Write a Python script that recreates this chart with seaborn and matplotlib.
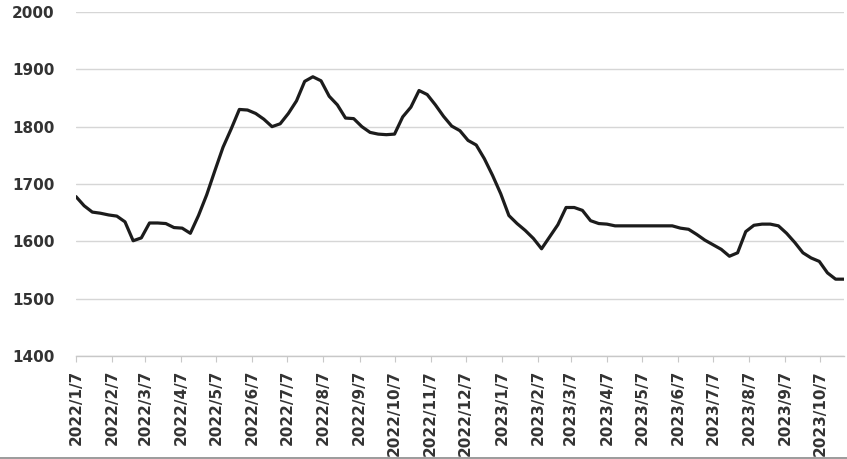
import pandas as pd
import matplotlib
matplotlib.use("Agg")
import matplotlib.pyplot as plt
import matplotlib.lines as mlines
import seaborn as sns

# weekly series
start_date = "2022-01-07"
values = [
    1678, 1662, 1651, 1649, 1646, 1644, 1634, 1601, 1606, 1632,
    1632, 1631, 1624, 1623, 1614, 1645, 1681, 1723, 1764, 1796,
    1830, 1829, 1823, 1813, 1800, 1805, 1823, 1845, 1879, 1887,
    1880, 1853, 1838, 1815, 1814, 1800, 1790, 1787, 1786, 1787,
    1817, 1834, 1863, 1856, 1838, 1818, 1801, 1793, 1776, 1768,
    1744, 1715, 1683, 1645, 1631, 1619, 1605, 1587, 1608, 1629,
    1659, 1659, 1654, 1636, 1631, 1630, 1627, 1627, 1627, 1627,
    1627, 1627, 1627, 1627, 1623, 1621, 1612, 1602, 1594, 1586,
    1574, 1580, 1617, 1628, 1630, 1630, 1627, 1614, 1598, 1580,
    1571, 1565, 1545, 1534, 1534,
]
y_ticks = [1400, 1500, 1600, 1700, 1800, 1900, 2000]
tick_labels = [
    "2022/1/7", "2022/2/7", "2022/3/7", "2022/4/7", "2022/5/7", "2022/6/7",
    "2022/7/7", "2022/8/7", "2022/9/7", "2022/10/7", "2022/11/7", "2022/12/7",
    "2023/1/7", "2023/2/7", "2023/3/7", "2023/4/7", "2023/5/7", "2023/6/7",
    "2023/7/7", "2023/8/7", "2023/9/7", "2023/10/7",
]

df = pd.DataFrame({
    "date": pd.date_range(start_date, periods=len(values), freq="7D"),
    "price": values,
})
tick_dates = pd.to_datetime(tick_labels, format="%Y/%m/%d")

sns.set_style("white")
plt.rcParams["font.family"] = ["DejaVu Sans"]

fig = plt.figure(figsize=(8.47, 4.59), dpi=100)
ax = fig.add_axes([0.0897, 0.2244, 0.9065, 0.7495])

sns.lineplot(data=df, x="date", y="price", ax=ax, color="#1c1c1c", linewidth=2.3)

ax.set_xlim(df["date"].iloc[0], df["date"].iloc[-1])
ax.set_ylim(1400, 2000)
ax.set_yticks(y_ticks)
ax.set_yticklabels([str(v) for v in y_ticks], fontsize=11, fontweight="bold", color="#333333")
ax.set_xticks(tick_dates)
ax.set_xticklabels(tick_labels, rotation=90, fontsize=11, fontweight="bold", color="#333333")

ax.grid(axis="y", color="#d6d6d6", linewidth=1.0)
ax.grid(axis="x", visible=False)
for side in ["left", "right", "top"]:
    ax.spines[side].set_visible(False)
ax.spines["bottom"].set_color("#c8c8c8")
ax.spines["bottom"].set_linewidth(1.0)
ax.tick_params(axis="x", bottom=True, length=4, width=0.8, color="#c8c8c8", pad=6)
ax.tick_params(axis="y", left=False, pad=12)
ax.set_xlabel("")
ax.set_ylabel("")

# grey border line at the bottom of the picture
fig.add_artist(mlines.Line2D([0, 1], [0.003, 0.003], transform=fig.transFigure,
                             color="#8a8a8a", linewidth=1.2))

fig.savefig("out.png", dpi=100)
